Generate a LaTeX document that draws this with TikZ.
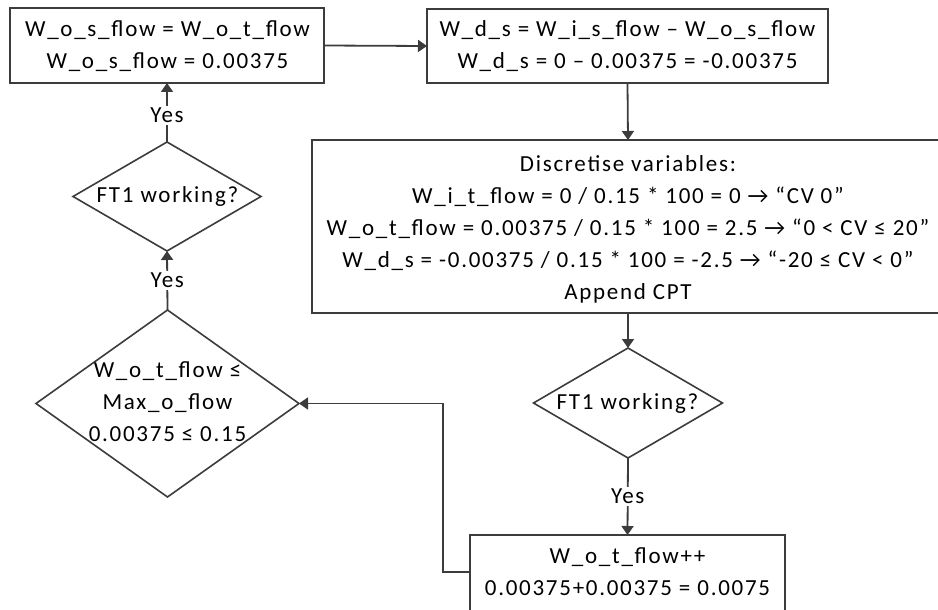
\documentclass[tikz,border=0pt]{standalone}
\usepackage{fontspec}
\setmainfont{Carlito}[LetterSpace=7.5]
\usetikzlibrary{arrows.meta,shapes.geometric}
\definecolor{linegray}{RGB}{60,60,60}
\begin{document}
\begin{tikzpicture}[x=1pt,y=-1pt,
  every node/.style={font=\fontsize{23}{32}\selectfont, text=black},
  procbox/.style={rectangle, draw=linegray, line width=1.8pt, fill=white,
    inner sep=0pt, outer sep=0pt},
  decision/.style={diamond, draw=linegray, line width=1.6pt, fill=white,
    inner sep=0pt, outer sep=0pt},
  txt/.style={align=center, inner sep=0pt},
  yeslabel/.style={fill=white, inner sep=2pt},
  flow/.style={draw=linegray, line width=1.8pt,
    -{Triangle[length=9pt,width=12pt]}}]

\useasboundingbox (0,0) rectangle (938,610);

% process boxes
\node[procbox, minimum width=314pt, minimum height=75pt] (b1) at (167,45.5) {};
\node[procbox, minimum width=401pt, minimum height=74pt] (b2) at (627.5,46) {};
\node[procbox, minimum width=632pt, minimum height=173pt] (b3) at (628,226.5) {};
\node[procbox, minimum width=315pt, minimum height=76pt] (b4) at (627.5,573) {};

% decisions
\node[decision, minimum width=189pt, minimum height=110pt] (d1) at (628,403) {};
\node[decision, minimum width=263pt, minimum height=187pt] (d2) at (167.5,403.5) {};
\node[decision, minimum width=188pt, minimum height=109pt] (d3) at (167,196.5) {};

% texts
\node[txt] (t1) at (167.5,46) {W\_o\_s\_flow = W\_o\_t\_flow\\W\_o\_s\_flow = 0.00375};
\node[txt] (t2) at (627.5,46) {W\_d\_s = W\_i\_s\_flow – W\_o\_s\_flow\\W\_d\_s = 0 – 0.00375 = -0.00375};
\node[txt] (t3) at (628,229) {Discretise variables:\\
  W\_i\_t\_flow = 0 / 0.15 * 100 = 0 → “CV 0”\\
  W\_o\_t\_flow = 0.00375 / 0.15 * 100 = 2.5 → “0 < CV ≤ 20”\\
  W\_d\_s = -0.00375 / 0.15 * 100 = -2.5 → “-20 ≤ CV < 0”\\
  Append CPT};
\node[txt] (t4) at (627.5,403) {FT1 working?};
\node[txt] (t5) at (627.5,571.5) {W\_o\_t\_flow++\\0.00375+0.00375 = 0.0075};
\node[txt] (t6) at (167.5,402) {W\_o\_t\_flow ≤\\Max\_o\_flow\\0.00375 ≤ 0.15};
\node[txt] (t7) at (167.5,196) {FT1 working?};

% connectors
\draw[flow] (b1.east) -- (b2.west);
\draw[flow] (b2.south) -- (b3.north);
\draw[flow] (b3.south) -- (d1.north);
\draw[flow] (d1.south) -- node[yeslabel] (y1) {Yes} (b4.north);
\coordinate (c1) at (443,572);
\coordinate (c2) at (443,403.5);
\draw[flow] (b4.west |- c1) -- (c1) -- (c2) -- (d2.east);
\draw[flow] (d2.north) -- node[yeslabel] (y2) {Yes} (d3.south);
\draw[flow] (d3.north) -- node[yeslabel, pos=0.45] (y3) {Yes} (b1.south);
\end{tikzpicture}
\end{document}
